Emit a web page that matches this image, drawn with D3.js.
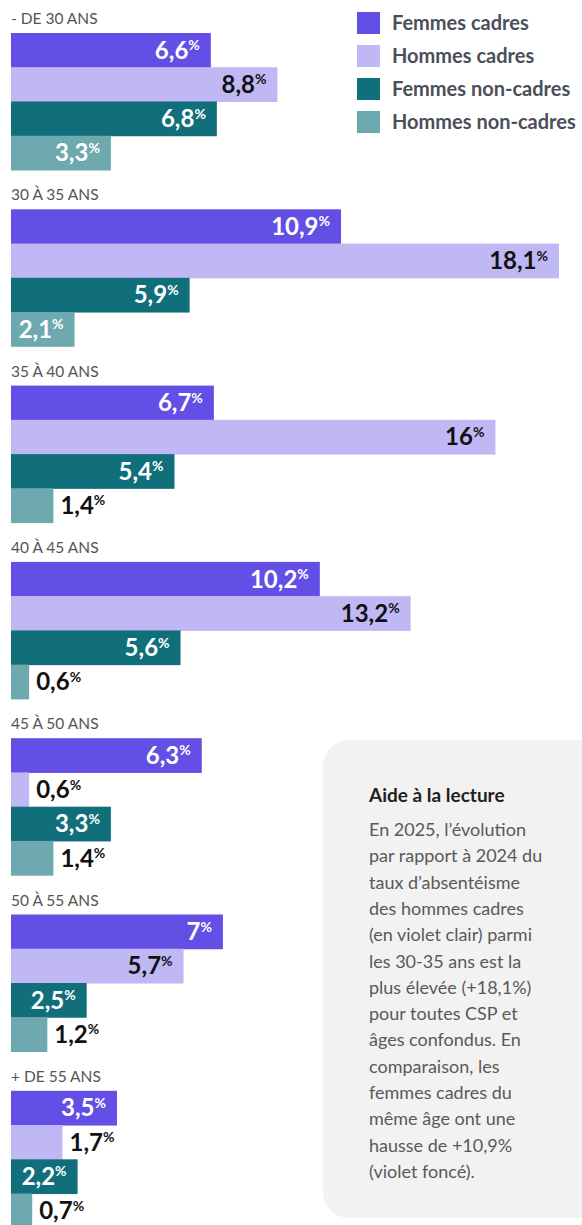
<!DOCTYPE html>
<html lang="fr">
<head>
<meta charset="utf-8">
<script src="https://cdn.jsdelivr.net/npm/d3@7"></script>
<style>
  html, body { margin: 0; padding: 0; background: #fff; }
  svg { display: block; font-family: Lato, "Noto Sans", sans-serif; }
</style>
</head>
<body>
<div id="chart"></div>
<script>
// Données
const ages = ['- DE 30 ANS', '30 À 35 ANS', '35 À 40 ANS', '40 À 45 ANS', '45 À 50 ANS', '50 À 55 ANS', '+ DE 55 ANS'];
const series = ['Femmes cadres', 'Hommes cadres', 'Femmes non-cadres', 'Hommes non-cadres'];
const femmesCadres = [6.6, 10.9, 6.7, 10.2, 6.3, 7, 3.5];
const hommesCadres = [8.8, 18.1, 16, 13.2, 0.6, 5.7, 1.7];
const femmesNonCadres = [6.8, 5.9, 5.4, 5.6, 3.3, 2.5, 2.2];
const hommesNonCadres = [3.3, 2.1, 1.4, 0.6, 1.4, 1.2, 0.7];
const couleurs = ['#634fe5', '#c0b8f4', '#116f7b', '#6fa9b0'];
const aideTitre = 'Aide à la lecture';
const aideLignes = [
  'En 2025, l’évolution', 'par rapport à 2024 du', 'taux d’absentéisme',
  'des hommes cadres', '(en violet clair) parmi', 'les 30-35 ans est la',
  'plus élevée (+18,1%)', 'pour toutes CSP et', 'âges confondus. En',
  'comparaison, les', 'femmes cadres du', 'même âge ont une',
  'hausse de +10,9%', '(violet foncé).'
];

const valeurs = [femmesCadres, hommesCadres, femmesNonCadres, hommesNonCadres];
const data = ages.map((age, i) => ({
  age,
  items: series.map((s, j) => ({ serie: s, valeur: valeurs[j][i], couleur: couleurs[j] }))
}));

const W = 582, H = 1225;
const svg = d3.select('#chart').append('svg')
  .attr('width', W).attr('height', H);

// Échelles
const x = d3.scaleLinear()
  .domain([0, d3.max(valeurs.flat())])
  .range([11, 559]);

const gap = 39.3, step = 176.3;
const y = d3.scaleBand()
  .domain(ages)
  .range([33, 33 + ages.length * step - gap])
  .paddingInner(gap / step)
  .paddingOuter(0);

const yInner = d3.scaleBand()
  .domain(series)
  .range([0, y.bandwidth()])
  .padding(0);

// Encadré "Aide à la lecture" (dessiné en premier, derrière)
const box = svg.append('g');
box.append('rect')
  .attr('x', 323).attr('y', 740)
  .attr('width', 300).attr('height', 478)
  .attr('rx', 26).attr('ry', 26)
  .attr('fill', '#f2f2f2');
box.append('text')
  .attr('x', 369).attr('y', 802)
  .attr('font-size', 19).attr('font-weight', 700)
  .attr('fill', '#1f1f1f')
  .text(aideTitre);
box.append('text')
  .attr('font-size', 18).attr('fill', '#595959')
  .selectAll('tspan')
  .data(aideLignes)
  .join('tspan')
    .attr('x', 369)
    .attr('y', (d, i) => 836 + i * 26.3)
    .text(d => d);

// Groupes par âge
const groupes = svg.selectAll('.groupe')
  .data(data)
  .join('g')
    .attr('class', 'groupe')
    .attr('transform', d => `translate(0,${y(d.age)})`);

groupes.append('text')
  .attr('x', 11).attr('y', -9)
  .attr('font-size', 15.5)
  .attr('fill', '#545454')
  .text(d => d.age);

const barres = groupes.selectAll('.barre')
  .data(d => d.items)
  .join('g')
    .attr('class', 'barre')
    .attr('transform', d => `translate(0,${yInner(d.serie)})`);

barres.append('rect')
  .attr('x', x(0))
  .attr('y', 0)
  .attr('width', d => x(d.valeur) - x(0))
  .attr('height', yInner.bandwidth() + 0.5)
  .attr('fill', d => d.couleur);

// Étiquettes de valeur
const seuil = 2;
const label = barres.append('text')
  .attr('y', yInner.bandwidth() / 2 + 8.5)
  .attr('font-weight', 700)
  .attr('x', d => d.valeur >= seuil ? x(d.valeur) - 11 : x(d.valeur) + 7)
  .attr('text-anchor', d => d.valeur >= seuil ? 'end' : 'start')
  .attr('fill', d => {
    if (d.valeur < seuil) return '#111';
    return d.serie === 'Hommes cadres' ? '#111' : '#fff';
  });

label.append('tspan')
  .attr('font-size', 24)
  .text(d => String(d.valeur).replace('.', ','));
label.append('tspan')
  .attr('font-size', 14)
  .attr('dy', -8.5)
  .text('%');

// Légende
const legende = svg.append('g')
  .selectAll('g')
  .data(series)
  .join('g')
    .attr('transform', (d, i) => `translate(357,${12 + i * 33})`);

legende.append('rect')
  .attr('width', 23).attr('height', 22)
  .attr('fill', (d, i) => couleurs[i]);

legende.append('text')
  .attr('x', 35).attr('y', 18)
  .attr('font-size', 20).attr('font-weight', 700)
  .attr('fill', '#4a4f59')
  .text(d => d);
</script>
</body>
</html>
